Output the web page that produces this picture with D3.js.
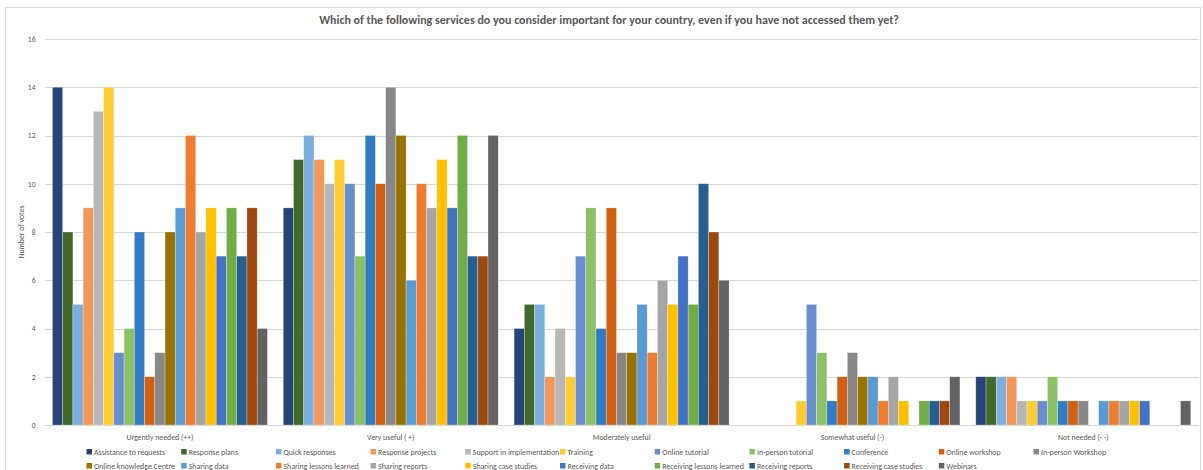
<html>
<head>
<meta charset="utf-8">
<title>Services considered important</title>
<style>
  body { margin: 0; background: #fff; }
  text { font-family: Carlito, "Liberation Sans", sans-serif; fill: #595959; }
  .axis path, .axis line { display: none; }
  .grid line { stroke: #d9d9d9; stroke-width: 1; shape-rendering: crispEdges; }
  .grid path { display: none; }
</style>
</head>
<body>
<script src="https://cdnjs.cloudflare.com/ajax/libs/d3/7.8.5/d3.min.js"></script>
<script>
var categories = ["Urgently needed (++)", "Very useful ( +)", "Moderately useful", "Somewhat useful (-)", "Not needed (- -)"];

var seriesNames = ["Assistance to requests", "Response plans", "Quick responses", "Response projects",
  "Support in implementation", "Training", "Online tutorial", "In-person tutorial", "Conference",
  "Online workshop", "In-person Workshop", "Online knowledge Centre", "Sharing data",
  "Sharing lessons learned", "Sharing reports", "Sharing case studies", "Receiving data",
  "Receiving lessons learned", "Receiving reports", "Receiving case studies", "Webinars"];

var seriesColors = ["#264478", "#43682b", "#7cafdd", "#f1975a", "#b7b7b7", "#ffcd33", "#698ed0",
  "#8cc168", "#327dc2", "#d26012", "#878787", "#997300", "#5b9bd5", "#ed7d31", "#a5a5a5",
  "#ffc000", "#4472c4", "#70ad47", "#255e91", "#9e480e", "#636363"];

// votes per category, one value per series (same order as seriesNames)
var urgentlyNeeded = [14, 8, 5, 9, 13, 14, 3, 4, 8, 2, 3, 8, 9, 12, 8, 9, 7, 9, 7, 9, 4];
var veryUseful     = [9, 11, 12, 11, 10, 11, 10, 7, 12, 10, 14, 12, 6, 10, 9, 11, 9, 12, 7, 7, 12];
var moderately     = [4, 5, 5, 2, 4, 2, 7, 9, 4, 9, 3, 3, 5, 3, 6, 5, 7, 5, 10, 8, 6];
var somewhat       = [0, 0, 0, 0, 0, 1, 5, 3, 1, 2, 3, 2, 2, 1, 2, 1, 0, 1, 1, 1, 2];
var notNeeded      = [2, 2, 2, 2, 1, 1, 1, 2, 1, 1, 1, 0, 1, 1, 1, 1, 1, 0, 0, 0, 1];

var yTicks = [0, 2, 4, 6, 8, 10, 12, 14, 16];

var values = [urgentlyNeeded, veryUseful, moderately, somewhat, notNeeded];

var width = 1203, height = 470;
var plotLeft = 44.5, plotRight = 1198.7, plotTop = 39, plotBottom = 425;

var svg = d3.select("body").append("svg")
  .attr("width", width)
  .attr("height", height);

// chart border
svg.append("rect")
  .attr("x", 5.5).attr("y", 7.5)
  .attr("width", width - 8).attr("height", height)
  .attr("fill", "none")
  .attr("stroke", "#d9d9d9");

svg.append("text")
  .attr("x", 609).attr("y", 24)
  .attr("text-anchor", "middle")
  .style("font-size", "12px")
  .style("font-weight", "bold")
  .text("Which of the following services do you consider important for your country, even if you have not accessed them yet?");

var x0 = d3.scaleBand()
  .domain(categories)
  .range([plotLeft, plotRight])
  .paddingInner(0.0687)
  .paddingOuter(0.0687 / 2);

var x1 = d3.scaleBand()
  .domain(seriesNames)
  .range([0, x0.bandwidth()]);

var y = d3.scaleLinear()
  .domain([0, 16])
  .range([plotBottom, plotTop]);

// gridlines
svg.append("g")
  .attr("class", "grid")
  .attr("transform", "translate(" + plotLeft + ",0)")
  .call(d3.axisLeft(y).tickValues(yTicks).tickSize(-(plotRight - plotLeft)).tickFormat(""));

// y axis labels
var yAxis = svg.append("g")
  .attr("class", "axis")
  .attr("transform", "translate(" + plotLeft + ",0)")
  .call(d3.axisLeft(y).tickValues(yTicks).tickSize(0).tickPadding(9));
yAxis.selectAll("text").style("font-size", "7.6px").style("font-family", "Carlito, 'Liberation Sans', sans-serif").attr("fill", "#595959");

svg.append("text")
  .attr("transform", "translate(24," + ((plotTop + plotBottom) / 2) + ") rotate(-90)")
  .attr("text-anchor", "middle")
  .style("font-size", "7.8px")
  .text("Number of votes");

// bars
var groups = svg.selectAll(".cat")
  .data(categories)
  .enter().append("g")
  .attr("class", "cat")
  .attr("transform", function(d) { return "translate(" + x0(d) + ",0)"; });

groups.selectAll("rect")
  .data(function(d, i) {
    return seriesNames.map(function(s, j) { return { name: s, value: values[i][j], color: seriesColors[j] }; });
  })
  .enter().append("rect")
  .attr("x", function(d) { return x1(d.name); })
  .attr("y", function(d) { return y(d.value); })
  .attr("width", x1.bandwidth())
  .attr("height", function(d) { return y(0) - y(d.value); })
  .attr("fill", function(d) { return d.color; })
  .attr("stroke", "rgba(255,255,255,0.45)")
  .attr("stroke-width", 0.6);

// x axis line
svg.append("line")
  .attr("x1", plotLeft).attr("x2", plotRight)
  .attr("y1", plotBottom + 0.5).attr("y2", plotBottom + 0.5)
  .attr("stroke", "#d9d9d9");

var xAxis = svg.append("g")
  .attr("class", "axis")
  .attr("transform", "translate(0," + plotBottom + ")")
  .call(d3.axisBottom(x0).tickSize(0).tickPadding(9));
xAxis.selectAll("text").style("font-size", "7.8px").style("font-family", "Carlito, 'Liberation Sans', sans-serif").attr("fill", "#595959");

// legend, 11 items on first row
var legend = svg.selectAll(".legend")
  .data(seriesNames)
  .enter().append("g")
  .attr("class", "legend")
  .attr("transform", function(d, i) {
    var col = i < 11 ? i : i - 11;
    var row = i < 11 ? 0 : 1;
    return "translate(" + (86.5 + col * 94.7) + "," + (452 + row * 14) + ")";
  });

legend.append("rect")
  .attr("x", 0).attr("y", -3)
  .attr("width", 5.5).attr("height", 5.5)
  .attr("fill", function(d, i) { return seriesColors[i]; });

legend.append("text")
  .attr("x", 7.5).attr("y", 2.6)
  .style("font-size", "7.9px")
  .text(function(d) { return d; });
</script>
</body>
</html>
